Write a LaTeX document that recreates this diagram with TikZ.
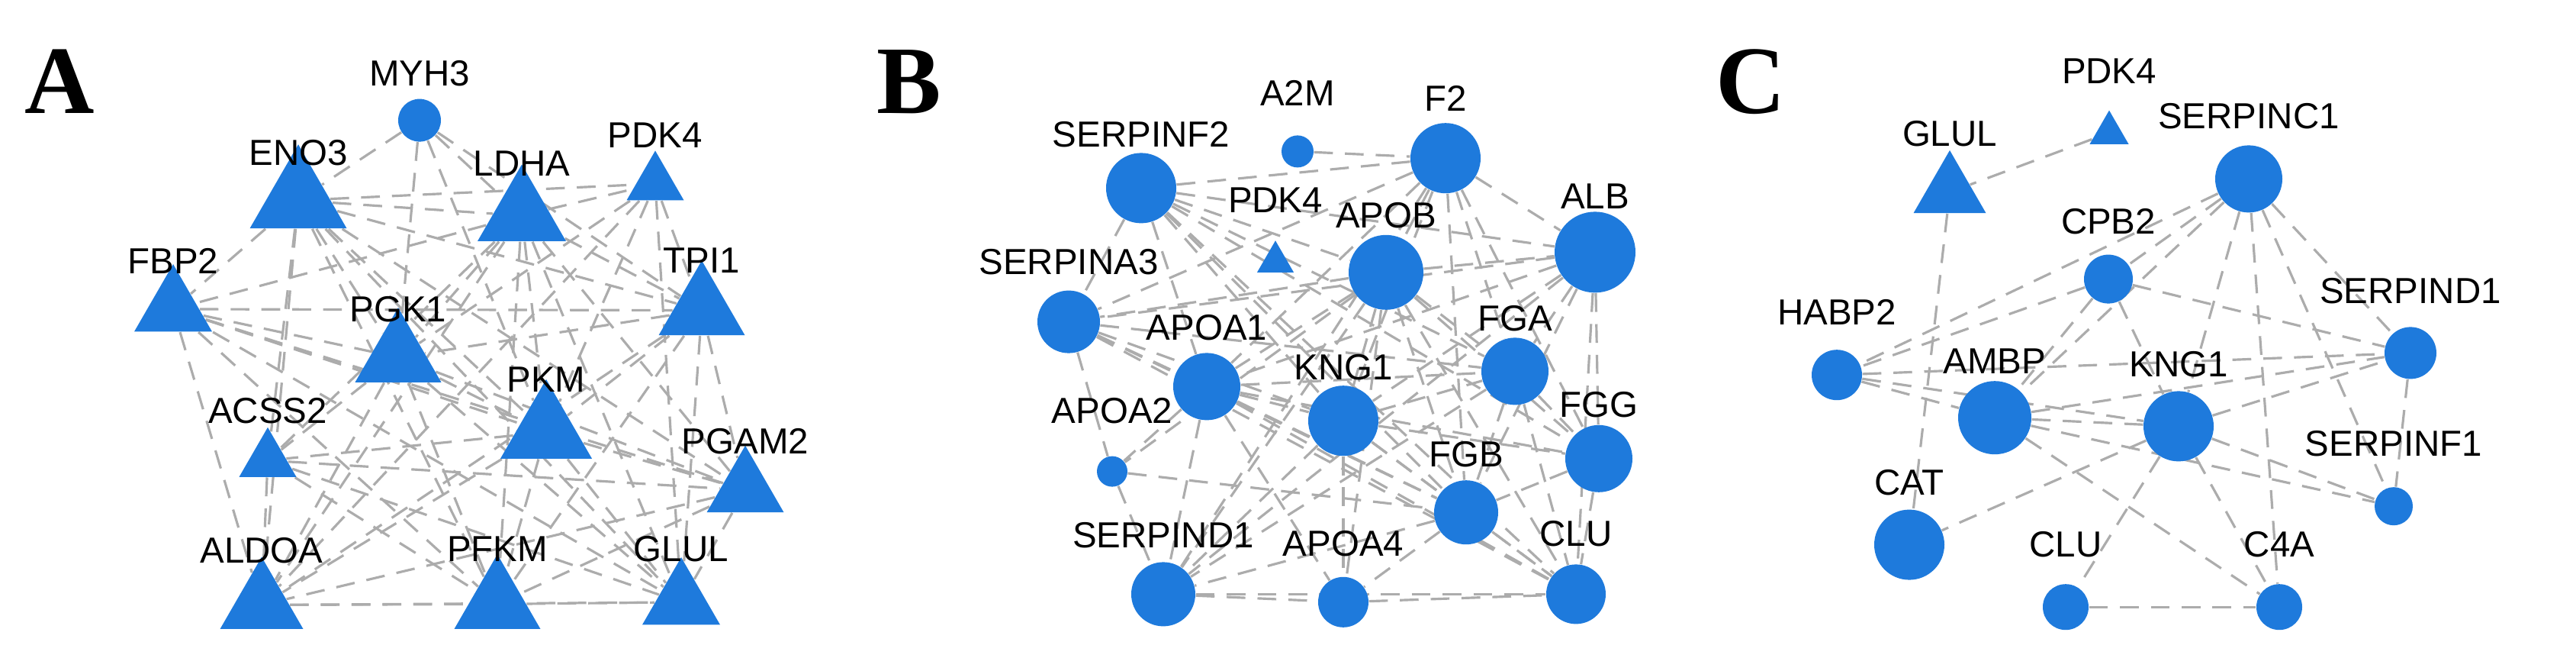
\documentclass[tikz,border=0pt]{standalone}
\usepackage{fontspec}
\setmainfont{Liberation Sans}
\newfontfamily\serifb{Liberation Serif}
\usetikzlibrary{shapes.geometric}
\definecolor{nblue}{RGB}{30,122,220}
\definecolor{egray}{RGB}{172,172,172}
\pgfdeclarelayer{bg}
\pgfsetlayers{bg,main}
\newcommand{\Tri}[6]{%
  \node[tri,minimum size={1.1547*#4*0.01cm}] (#1) at (#2,{#3-0.2887*#4/0.8}) {};
  \node[lab] (#1-l) at (#2,#6) {#5};}
\newcommand{\Circ}[6]{%
  \node[circ,minimum size={2*#4*0.01cm}] (#1) at (#2,#3) {};
  \node[lab] (#1-l) at (#2,#6) {#5};}
\begin{document}
\begin{tikzpicture}[x=0.01cm,y=-0.008cm,
  tri/.style={regular polygon,regular polygon sides=3,fill=nblue,inner sep=0pt,draw=none},
  circ/.style={circle,fill=nblue,inner sep=0pt,draw=none},
  lab/.style={font=\fontsize{13.5}{13.5}\selectfont,inner sep=0pt},
  pl/.style={font=\serifb\bfseries\fontsize{36}{36}\selectfont,inner sep=0pt},
  ed/.style={draw=egray,line width=0.9pt,dash pattern=on 7pt off 4.5pt}]
\useasboundingbox (0,0) rectangle (3377,1098.75);
\begin{pgfonlayer}{bg}
\fill[white] (0,0) rectangle (3377,1098.75);
\end{pgfonlayer}
% ---------- Panel A
\node[pl] (PA) at (78,134) {A};
\Circ{amyh}{550}{197}{28}{MYH3}{120}
\Tri{aeno}{391}{374}{127}{ENO3}{250}
\Tri{aldh}{684}{395}{116}{LDHA}{268}
\Tri{apdk}{859}{328}{75}{PDK4}{222}
\Tri{afbp}{227}{543}{102}{FBP2}{427}
\Tri{atpi}{920}{549}{113}{TPI1}{427}
\Tri{apgk}{522}{626}{113}{PGK1}{506}
\Tri{apkm}{716}{751}{120}{PKM}{621}
\Tri{aacs}{351}{781}{75}{ACSS2}{673}
\Tri{apga}{977}{839}{101}{PGAM2}{723}
\Tri{aald}{343}{1030}{109}{ALDOA}{901}
\Tri{apfk}{652}{1030}{113}{PFKM}{899}
\Tri{aglu}{893}{1023}{102}{GLUL}{899}
\begin{pgfonlayer}{bg}
\foreach \a/\b in {amyh/aeno,amyh/aldh,amyh/apgk,amyh/apkm,amyh/atpi,
 aeno/aldh,aeno/apdk,aeno/afbp,aeno/atpi,aeno/apgk,aeno/apkm,aeno/aacs,aeno/apga,aeno/aald,aeno/apfk,aeno/aglu,
 aldh/apdk,aldh/afbp,aldh/atpi,aldh/apgk,aldh/apkm,aldh/aacs,aldh/apga,aldh/aald,aldh/apfk,aldh/aglu,
 apdk/atpi,apdk/apkm,apdk/apgk,apdk/aald,apdk/aglu,
 afbp/atpi,afbp/apgk,afbp/apkm,afbp/aald,afbp/apfk,afbp/apga,afbp/aglu,
 atpi/apgk,atpi/apkm,atpi/aald,atpi/apfk,atpi/apga,atpi/aglu,
 apgk/apkm,apgk/aacs,apgk/aald,apgk/apfk,apgk/apga,apgk/aglu,
 apkm/aacs,apkm/aald,apkm/apfk,apkm/apga,apkm/aglu,
 aacs/aald,aacs/apfk,aacs/aglu,aacs/apga,
 apga/aald,apga/apfk,apga/aglu,
 aald/apfk,aald/aglu,apfk/aglu}
 \draw[ed] (\a) -- (\b);
\end{pgfonlayer}
% ---------- Panel B
\node[pl] (PB) at (1192,134) {B};
\Circ{ba2m}{1701}{248}{21}{A2M}{152}
\Circ{bf2}{1895}{259}{46}{F2}{161}
\Circ{bsf2}{1496}{308}{46}{SERPINF2}{220}
\Tri{bpdk}{1672}{446}{48}{PDK4}{328}
\Circ{bapob}{1817}{446}{49}{APOB}{353}
\Circ{balb}{2091}{413}{53}{ALB}{321}
\Circ{bsa3}{1401}{527}{41}{SERPINA3}{429}
\Circ{bapoa1}{1582}{633}{44}{APOA1}{536}
\Circ{bkng}{1761}{689}{46}{KNG1}{601}
\Circ{bfga}{1986}{608}{44}{FGA}{522}
\Circ{bfgg}{2096}{751}{44}{FGG}{663}
\Circ{bapoa2}{1458}{772}{20}{APOA2}{673}
\Circ{bfgb}{1922}{839}{42}{FGB}{744}
\Circ{bsd1}{1525}{973}{42}{SERPIND1}{877}
\Circ{bapoa4}{1761}{986}{33}{APOA4}{890}
\Circ{bclu}{2066}{973}{39}{CLU}{874}
\begin{pgfonlayer}{bg}
\foreach \a/\b in {ba2m/bf2,bsf2/bf2,bsf2/bapob,bsf2/balb,bsf2/bkng,bsf2/bfga,bsf2/bfgb,bsf2/bfgg,bsf2/bsa3,bsf2/bapoa1,bsf2/bclu,
 bf2/bapob,bf2/balb,bf2/bfga,bf2/bfgb,bf2/bfgg,bf2/bkng,bf2/bapoa1,bf2/bsa3,bf2/bsd1,
 bapob/balb,bapob/bapoa1,bapob/bkng,bapob/bfga,bapob/bfgb,bapob/bfgg,bapob/bsa3,bapob/bsd1,bapob/bapoa4,bapob/bclu,bapob/bapoa2,
 balb/bfga,balb/bfgg,balb/bfgb,balb/bkng,balb/bapoa1,balb/bsa3,balb/bsd1,balb/bclu,
 bsa3/bapoa1,bsa3/bkng,bsa3/bfga,bsa3/bfgb,bsa3/bapoa2,bsa3/bclu,
 bapoa1/bkng,bapoa1/bapoa2,bapoa1/bfga,bapoa1/bfgb,bapoa1/bsd1,bapoa1/bapoa4,bapoa1/bclu,bapoa1/bfgg,
 bkng/bfga,bkng/bfgb,bkng/bfgg,bkng/bsd1,bkng/bapoa4,bkng/bclu,
 bfga/bfgb,bfga/bfgg,bfga/bsd1,bfga/bclu,
 bfgg/bfgb,bfgg/bclu,bfgb/bclu,bfgb/bsd1,bfgb/bapoa4,
 bapoa2/bsd1,bapoa2/bfgb,bsd1/bapoa4,bsd1/bclu,bapoa4/bclu}
 \draw[ed] (\a) -- (\b);
\end{pgfonlayer}
% ---------- Panel C
\node[pl] (PC) at (2295,134) {C};
\Tri{cpdk}{2765}{236}{51}{PDK4}{116}
\Tri{cglu}{2556}{349}{95}{GLUL}{219}
\Circ{csc1}{2948}{293}{44}{SERPINC1}{190}
\Circ{ccpb}{2764}{457}{32}{CPB2}{363}
\Circ{chab}{2408}{614}{33}{HABP2}{511}
\Circ{csd1}{3160}{578}{34}{SERPIND1}{476}
\Circ{cambp}{2615}{684}{48}{AMBP}{591}
\Circ{ckng}{2856}{698}{46}{KNG1}{596}
\Circ{csf1}{3138}{829}{25}{SERPINF1}{726}
\Circ{ccat}{2503}{892}{46}{CAT}{790}
\Circ{cclu}{2708}{994}{30}{CLU}{892}
\Circ{cc4a}{2988}{994}{30}{C4A}{892}
\begin{pgfonlayer}{bg}
\foreach \a/\b in {cpdk/cglu,cglu/ccat,csc1/ccpb,csc1/chab,csc1/cambp,csc1/ckng,csc1/cc4a,csc1/csf1,csc1/csd1,
 ccpb/chab,ccpb/cambp,ccpb/ckng,ccpb/csd1,chab/cambp,chab/ckng,chab/csd1,
 cambp/ckng,cambp/csd1,cambp/cc4a,cambp/csf1,ckng/csd1,ckng/csf1,ckng/cclu,ckng/cc4a,ckng/ccat,
 cclu/cc4a,csd1/csf1}
 \draw[ed] (\a) -- (\b);
\end{pgfonlayer}
\end{tikzpicture}
\end{document}
